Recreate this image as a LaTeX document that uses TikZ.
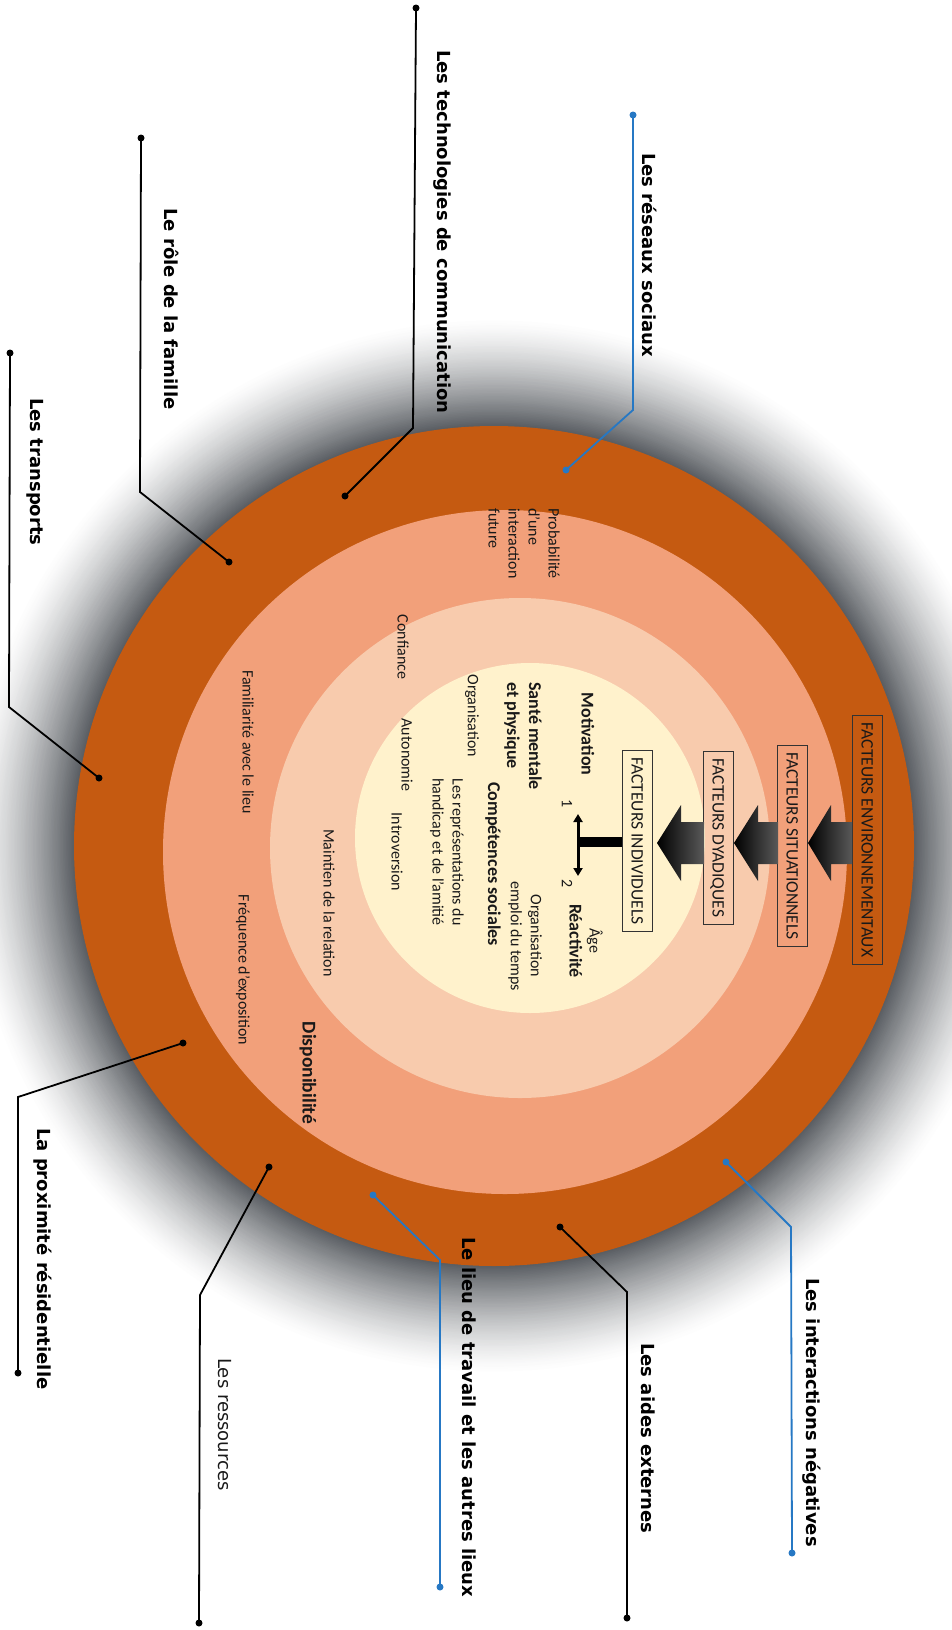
\documentclass[tikz,border=0pt]{standalone}
\usepackage{fontspec}
\setmainfont{Carlito}
\newfontfamily\labfont{DejaVu Sans}
\usetikzlibrary{arrows.meta}
\definecolor{ringA}{HTML}{C55A11}
\definecolor{ringB}{HTML}{F2A07A}
\definecolor{ringC}{HTML}{F8CBAD}
\definecolor{ringD}{HTML}{FFF2CC}
\definecolor{shadowc}{RGB}{88,92,97}
\definecolor{leadblue}{RGB}{38,120,196}
\tikzset{
  txt/.style={rotate=-90, inner sep=0pt, text=black!90, font=\fontsize{16}{20}\selectfont},
  txtb/.style={txt, font=\bfseries\fontsize{18}{22}\selectfont},
  lab/.style={rotate=-90, anchor=west, inner sep=0pt, text height=13pt, text depth=4pt, font=\labfont\bfseries\fontsize{18}{22}\selectfont},
  labr/.style={lab, font=\labfont\fontsize{18}{22}\selectfont, text=black!90},
  factbox/.style={rotate=-90, draw=black!80, line width=0.8pt, inner xsep=7pt, inner ysep=0pt, minimum height=30pt, text height=12pt, text depth=1pt, text=black!90, font=\fontsize{17.5}{21}\selectfont},
  leadk/.style={line width=1.8pt, draw=black},
  leadb/.style={line width=1.8pt, draw=leadblue},
  enddot/.style={circle, fill=black, inner sep=0pt, minimum size=7pt},
  enddotb/.style={enddot, fill=leadblue},
  bigarrow/.style={left color=black, middle color=black, right color=black!65}
}
\begin{document}
\begin{tikzpicture}[x=1pt,y=-1pt]
\useasboundingbox (0,0) rectangle (952,1630);
\fill[white] (0,0) rectangle (952,1630);
% shadow glow
\coordinate (C) at (494,846);
\foreach \i in {0,...,70}{
  \pgfmathsetmacro\dd{110*(1-\i/70)}
  \pgfmathtruncatemacro\pp{100*(1-\dd/110)^1.4}
  \fill[shadowc!\pp!white] (C) circle[radius=420+\dd];
}
% rings
\fill[ringA] (C) circle[radius=420];
\fill[ringB] (505,852) circle[radius=342];
\fill[ringC] (520,848) circle[radius=250];
\fill[ringD] (530,838) circle[radius=175];

% factor boxes
\node[factbox] (ENV) at (867,840) {FACTEURS ENVIRONNEMENTAUX};
\node[factbox] (SIT) at (792,846) {FACTEURS SITUATIONNELS};
\node[factbox] (DYA) at (718,838) {FACTEURS DYADIQUES};
\node[factbox] (IND) at (637,841) {FACTEURS INDIVIDUELS};

% big arrows
\shade[bigarrow] (808,843) -- (831,805) -- (831,822) -- (852,822) -- (852,864) -- (831,864) -- (831,881) -- cycle;
\shade[bigarrow] (734,843) -- (758,805) -- (758,822) -- (778,822) -- (778,864) -- (758,864) -- (758,881) -- cycle;
\shade[bigarrow] (657,843) -- (681,805) -- (681,822) -- (704,822) -- (704,864) -- (681,864) -- (681,881) -- cycle;

% T with double arrow
\coordinate (t1) at (578,814);
\coordinate (t2) at (578,876);
\coordinate (tm) at (578,842);
\draw[line width=3pt, {Triangle[length=8pt,width=9pt]}-{Triangle[length=8pt,width=9pt]}] (t1) -- (t2);
\draw[line width=10pt] (tm) -- (tm -| IND.south);
\node[txt] (n1) at (567,804) {1};
\node[txt] (n2) at (567,884) {2};

% inner texts
\node[txt, anchor=west, align=left] (prob) at (524,508) {Probabilité\\d’une\\interaction\\future};
\node[txt] (conf) at (403,647) {Confiance};
\node[txt] (fam) at (248,742) {Familiarité avec le lieu};
\node[txt] (freq) at (243,970) {Fréquence d’exposition};
\node[txt] (maint) at (329,903) {Maintien de la relation};
\node[txtb, font=\bfseries\fontsize{19.5}{23}\selectfont] (dispo) at (308,1073) {Disponibilité};
\node[txtb] (motiv) at (588,734) {Motivation};
\node[txtb, anchor=west, align=left] (sante) at (523,682) {Santé mentale\\et physique};
\node[txt] (orga1) at (472,716) {Organisation};
\node[txt] (auto) at (407,755) {Autonomie};
\node[txtb] (comp) at (493,864) {Compétences sociales};
\node[txt, align=center] (repr) at (447,852) {Les représentations du\\handicap et de l’amitié};
\node[txt] (intro) at (397,852) {Introversion};
\node[txt, align=center] (orga2) at (525,936) {Organisation\\emploi du temps};
\node[txt, align=center] (age) at (586,941) {Âge\\{\bfseries\fontsize{18}{22}\selectfont Réactivité}};

% leader lines
\node[enddotb] (rs1) at (633,115) {};
\node[enddotb] (rs2) at (566,470) {};
\coordinate (rsk) at (633,410);
\draw[leadb] (rs1.center) -- (rsk) -- (rs2.center);
\node[lab] (Lrs) at (647,153) {Les réseaux sociaux};

\node[enddot] (tc1) at (416,8) {};
\node[enddot] (tc2) at (345,496) {};
\coordinate (tck) at (413,428);
\draw[leadk] (tc1.center) -- (tck) -- (tc2.center);
\node[lab] (Ltc) at (442,50) {Les technologies de communication};

\node[enddot] (rf1) at (141,138) {};
\node[enddot] (rf2) at (229,562) {};
\coordinate (rfk) at (140,492);
\draw[leadk] (rf1.center) -- (rfk) -- (rf2.center);
\node[lab] (Lrf) at (169,208) {Le rôle de la famille};

\node[enddot] (tr1) at (10,353) {};
\node[enddot] (tr2) at (99,778) {};
\coordinate (trk) at (9,707);
\draw[leadk] (tr1.center) -- (trk) -- (tr2.center);
\node[lab] (Ltr) at (35,398) {Les transports};

\node[enddot] (pr1) at (183,1043) {};
\node[enddot] (pr2) at (18,1373) {};
\coordinate (prk) at (18,1097);
\draw[leadk] (pr1.center) -- (prk) -- (pr2.center);
\node[lab] (Lpr) at (42,1128) {La proximité résidentielle};

\node[enddot] (re1) at (269,1167) {};
\node[enddot] (re2) at (199,1623) {};
\coordinate (rek) at (200,1295);
\draw[leadk] (re1.center) -- (rek) -- (re2.center);
\node[labr] (Lre) at (223,1358) {Les ressources};

\node[enddotb] (lt1) at (373,1195) {};
\node[enddotb] (lt2) at (440,1587) {};
\coordinate (ltk) at (440,1260);
\draw[leadb] (lt1.center) -- (ltk) -- (lt2.center);
\node[lab] (Llt) at (467,1237) {Le lieu de travail et les autres lieux};

\node[enddot] (ae1) at (560,1227) {};
\node[enddot] (ae2) at (627,1618) {};
\coordinate (aek) at (627,1292);
\draw[leadk] (ae1.center) -- (aek) -- (ae2.center);
\node[lab] (Lae) at (646,1343) {Les aides externes};

\node[enddotb] (in1) at (726,1162) {};
\node[enddotb] (in2) at (792,1553) {};
\coordinate (ink) at (791,1227);
\draw[leadb] (in1.center) -- (ink) -- (in2.center);
\node[lab] (Lin) at (811,1278) {Les interactions négatives};
\end{tikzpicture}
\end{document}
